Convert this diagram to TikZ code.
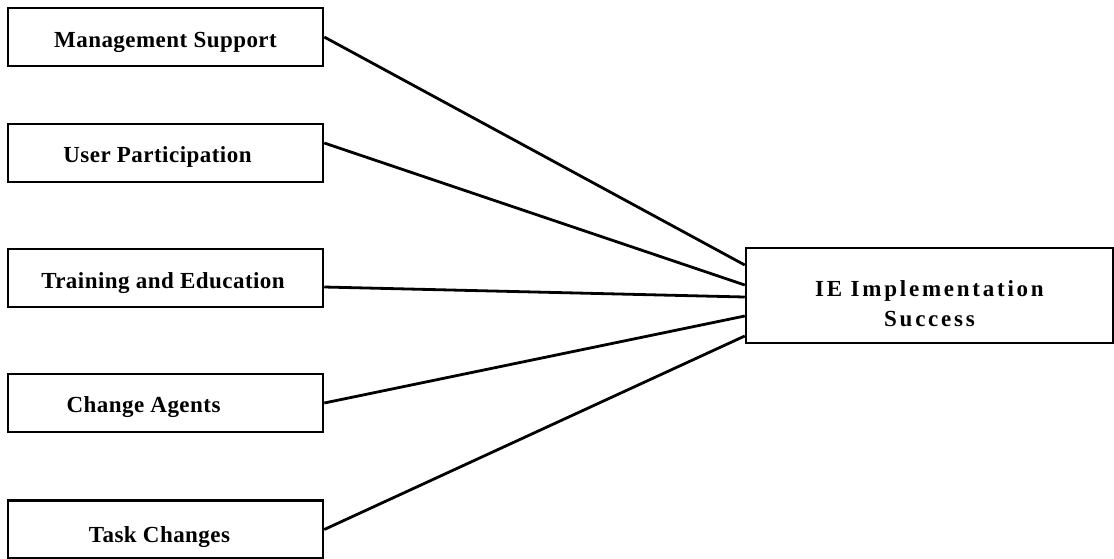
\documentclass[tikz,border=0pt]{standalone}
\usepackage{fontspec}
\setmainfont{Liberation Serif}[LetterSpace=2]
\newfontfamily\iefont{Liberation Serif}[LetterSpace=12]
\begin{document}
\begin{tikzpicture}[x=1pt,y=-1pt,
  srcbox/.style={draw=black,line width=2.5pt,minimum width=315pt,minimum height=58pt,inner sep=0pt,text depth=0pt,font=\fontsize{23}{27}\selectfont\bfseries},
  tgtbox/.style={draw=black,line width=2.5pt,minimum width=367pt,minimum height=95pt,inner sep=0pt,text depth=0pt,font=\iefont\fontsize{23}{30}\selectfont\bfseries},
  link/.style={draw=black,line width=2.8pt}]
\useasboundingbox (0,0) rectangle (1114,558);
\node[srcbox,text height=20pt] (b1) at (165.5,37) {Management Support};
\node[srcbox,text height=18pt] (b2) at (165.5,153) {\hspace{-16pt}User Participation};
\node[srcbox,text height=20pt] (b3) at (165.5,278) {\hspace{-5pt}Training and Education};
\node[srcbox,text height=18pt] (b4) at (165.5,403) {\hspace{-44pt}Change Agents};
\node[srcbox,text height=25pt] (b5) at (165.5,529.5) {\hspace{-12pt}Task Changes};
\node[tgtbox,text height=61pt] (ie) at (929.5,295.5) {\parbox[b]{340pt}{\centering IE Implementation\\Success}};
\draw[link] (b1.east) -- ([yshift=30.5pt]ie.west);
\draw[link] ([yshift=10pt]b2.east) -- ([yshift=10.5pt]ie.west);
\draw[link] ([yshift=-9pt]b3.east) -- ([yshift=-1.5pt]ie.west);
\draw[link] (b4.east) -- ([yshift=-20.5pt]ie.west);
\draw[link] (b5.east) -- ([yshift=-40.5pt]ie.west);
\end{tikzpicture}
\end{document}
